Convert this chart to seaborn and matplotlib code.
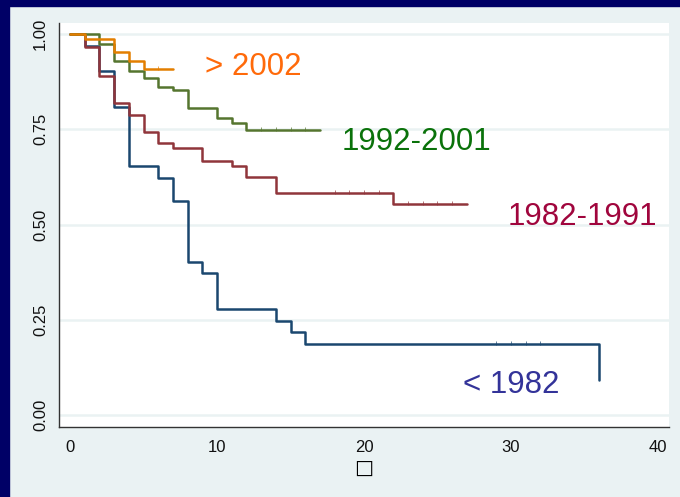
import numpy as np
import pandas as pd
import matplotlib
matplotlib.use("Agg")
import matplotlib.pyplot as plt
from matplotlib.patches import Rectangle
import seaborn as sns

# ---- data ----
groups = ["< 1982", "1982-1991", "1992-2001", "> 2002"]

t_lt1982 = [0, 1, 2, 3, 4, 6, 7, 8, 9, 10, 14, 15, 16, 36]
s_lt1982 = [1.0, 0.968, 0.903, 0.809, 0.654, 0.623, 0.562, 0.402, 0.372, 0.278, 0.248, 0.217, 0.186, 0.093]
c_lt1982 = [29, 30, 31, 32]

t_8291 = [0, 1, 2, 3, 4, 5, 6, 7, 9, 11, 12, 14, 22, 27]
s_8291 = [1.0, 0.967, 0.891, 0.818, 0.787, 0.744, 0.713, 0.700, 0.667, 0.654, 0.625, 0.582, 0.554, 0.554]
c_8291 = [18, 19, 20, 21, 23, 24, 25, 26]

t_9201 = [0, 2, 3, 4, 5, 6, 7, 8, 10, 11, 12, 17]
s_9201 = [1.0, 0.974, 0.928, 0.902, 0.885, 0.860, 0.853, 0.807, 0.781, 0.766, 0.749, 0.749]
c_9201 = [13, 14, 15, 16]

t_gt2002 = [0, 1, 3, 4, 5, 7]
s_gt2002 = [1.0, 0.987, 0.954, 0.929, 0.909, 0.909]
c_gt2002 = [6]

x_ticks = [0, 10, 20, 30, 40]
y_ticks = [0.0, 0.25, 0.50, 0.75, 1.0]
y_ticklabels = ["0.00", "0.25", "0.50", "0.75", "1.00"]
x_label = "\u25a1"

# label text placement (data coords) and colours
label_pos = {"< 1982": (30.05, 0.059), "1982-1991": (34.83, 0.499),
             "1992-2001": (23.57, 0.696), "> 2002": (12.48, 0.892)}
label_col = {"< 1982": "#333399", "1982-1991": "#a0053d",
             "1992-2001": "#0a720a", "> 2002": "#ff6a0a"}
line_col = {"< 1982": "#1a476f", "1982-1991": "#90353b",
            "1992-2001": "#55752f", "> 2002": "#e37e00"}

series = {
    "< 1982": (t_lt1982, s_lt1982, c_lt1982),
    "1982-1991": (t_8291, s_8291, c_8291),
    "1992-2001": (t_9201, s_9201, c_9201),
    "> 2002": (t_gt2002, s_gt2002, c_gt2002),
}

rows = []
for g in groups:
    t, s, _ = series[g]
    for ti, si in zip(t, s):
        rows.append({"t": ti, "s": si, "group": g})
df = pd.DataFrame(rows)

# ---- figure ----
sns.set_style("white")
plt.rcParams["font.family"] = ["Liberation Sans", "DejaVu Sans"]

BG = "#eaf2f3"
fig = plt.figure(figsize=(6.8, 4.97), dpi=100, facecolor=BG)
fig.patches.append(Rectangle((0, 0), 8.5 / 680, 1, transform=fig.transFigure,
                             color="#000066", zorder=0))
fig.patches.append(Rectangle((0, 1 - 6 / 497), 1, 6 / 497, transform=fig.transFigure,
                             color="#000066", zorder=0))

ax = fig.add_axes([59 / 680, 1 - 427 / 497, 610 / 680, 404 / 497])
ax.set_facecolor("white")

sns.lineplot(data=df, x="t", y="s", hue="group", hue_order=groups,
             palette=line_col, estimator=None, sort=False,
             drawstyle="steps-post", linewidth=1.8, legend=False, ax=ax)

for g in groups:
    t, s, c = series[g]
    t_arr = np.asarray(t)
    s_arr = np.asarray(s)
    idx = np.searchsorted(t_arr, c, side="right") - 1
    ax.plot(c, s_arr[idx] + 0.003, ls="none", marker="|", ms=3, mew=0.6,
            color=line_col[g], alpha=0.8, zorder=3)

for g in groups:
    x, y = label_pos[g]
    ax.text(x, y, g, color=label_col[g], fontsize=22.5, ha="center",
            va="baseline")

ax.set_xlim(-0.75, 40.75)
ax.set_ylim(-0.031, 1.029)
ax.set_xticks(x_ticks)
ax.set_xticklabels([str(v) for v in x_ticks])
ax.set_yticks(y_ticks)
ax.set_yticklabels(y_ticklabels, rotation=90, va="center")
ax.yaxis.grid(True, color=BG, linewidth=1.8, zorder=0)
ax.xaxis.grid(False)
ax.set_axisbelow(True)

for side in ["top", "right"]:
    ax.spines[side].set_visible(False)
for side in ["left", "bottom"]:
    ax.spines[side].set_color("#333333")
    ax.spines[side].set_linewidth(1.0)

ax.tick_params(axis="both", direction="out", length=5, width=1.0,
               color="#333333", labelsize=12, labelcolor="#111111")
ax.tick_params(axis="x", pad=4)
ax.tick_params(axis="y", pad=3)
ax.set_xlabel("")
ax.set_ylabel("")

fig.text(364 / 680, 1 - 468 / 497, x_label, ha="center", va="center",
         fontsize=14.5, family="DejaVu Sans", color="black")

fig.savefig("out.png", dpi=100, facecolor=BG)
